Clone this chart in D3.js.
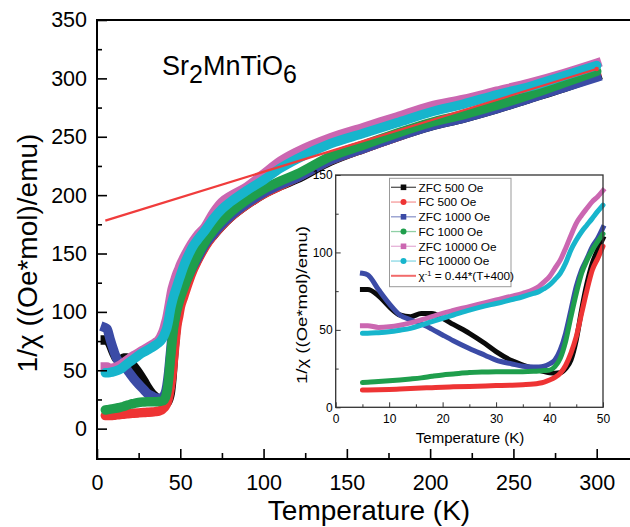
<!DOCTYPE html>
<html><head><meta charset="utf-8">
<script src="https://cdn.jsdelivr.net/npm/d3@7/dist/d3.min.js"></script>
<style>
body{margin:0;background:#fff}
svg{display:block}
text{font-family:"Liberation Sans",Arial,Helvetica,sans-serif;fill:#000}
</style>
</head><body>
<svg id="chart" width="630" height="527"></svg>
<script>
// ---------- DATA ----------
const lowT  = [5,6,8,10,12,14,16,18,20,22,25,28,30,33,35,37,38,39,40,41,42,43,44,45,46,47,48,49,50];
const highT = [50,52,55,58,60,65,70,75,80,90,100,110,120,140,160,180,200,220,240,260,280,300];

const zfc500Low  = [76,76,72,65,59.6,58.5,60.5,60.5,57.5,53.5,47.8,41,36,30,27.3,25,24,23,22.3,22,22.3,25,30.5,43.5,63,80,93,101.6,109];
const fc500Low   = [11.2,11.2,11.3,11.5,11.8,12.1,12.4,12.7,13,13.2,13.5,13.8,14,14.3,14.6,15,15.5,16.3,17.6,19.3,22,27,35,45.6,60.7,75.7,88.7,96,104];
const zfc1000Low = [86.5,85.5,76,67,59.6,56.5,54,50.5,46.7,43,38,33.5,30.5,28,26.5,26,26,26.5,28,30.5,37,47.8,62.8,78,88.7,96,103.7,109,116];
const fc1000Low  = [16,16.2,16.7,17.2,17.7,18.3,19,20,20.9,21.5,22.4,22.8,23,23,23,23.2,23.4,23.7,24,26.3,31.6,42.4,58.5,73.6,86.5,95,101.6,107,112];
const zfc1e4Low  = [52.7,52.7,51.6,52,53,54.5,56.5,58.5,60.7,62.5,65,67.6,69.3,71.8,73.6,76,78,81,84.4,89.7,95,102.6,111,118.8,124,128.5,132.8,136,140];
const fc1e4Low   = [47.8,47.8,48.2,48.8,49.8,51,53,55.3,57.5,59.6,62.8,65.5,67,69.6,71.4,73.5,74.7,76.7,79,82.5,86.5,93,101.6,108,113.4,117.7,122,126.5,130.6];

const zfc500High  = [109,117,129,139,144,157,166,174,181,192,201,208,214,229,240,250,259,266,274,283,292,302];
const fc500High   = [104,113,126,137,143,156,166,174,181,192,201,208,215,230,240,250,260,267,275,284,293,303];
const zfc1000High = [116,122,131,140,145,158,167,175,182,193,202,209,215,230,240,250,259,266,274,283,292,301];
const fc1000High  = [112,120,131,141,147,160,170,178,185,196,205,212,218,233,243,253,262,269,277,286,296,306];
const zfc1e4High  = [140,146,154,161,165,173,185,194,199,207,218,229,237,249,258,267,276,282,289,296,304,313];
const fc1e4High   = [130.6,139,149,157,161,170,180,188,194,204,213,223,231,244,253,262,271,278,286,293,302,311];

const seriesNames  = ["ZFC 500 Oe","FC 500 Oe","ZFC 1000 Oe","FC 1000 Oe","ZFC 10000 Oe","FC 10000 Oe"];
const seriesColors = ["#0a0a0a","#ee3434","#3b4ba6","#1f9e4c","#cb67b1","#17b5cc"];
const seriesLight  = ["#555555","#f59a9a","#8e98cc","#8fd0a6","#e6b3d8","#8ad9e5"];
const seriesMarker = ["square","circle","square","circle","square","circle"];

const fitT = [5, 300];
const fitV = [178.2, 308];
const fitColor = "#f03c3c";
const fitLabel = ["χ", "-1", " = 0.44*(T+400)"];

const mainXTicks = [0,50,100,150,200,250,300];
const mainXMinor = [25,75,125,175,225,275,325];
const mainYTicks = [0,50,100,150,200,250,300,350];
const mainYMinor = [25,75,125,175,225,275,325];
const insetXTicks = [0,10,20,30,40,50];
const insetXMinor = [5,15,25,35,45];
const insetYTicks = [0,50,100,150];
const insetYMinor = [25,75,125];

const yTitle = "1/χ ((Oe*mol)/emu)";
const xTitle = "Temperature (K)";

// ---------- BUILD ----------
const lowSets  = [zfc500Low, fc500Low, zfc1000Low, fc1000Low, zfc1e4Low, fc1e4Low];
const highSets = [zfc500High, fc500High, zfc1000High, fc1000High, zfc1e4High, fc1e4High];
const series = seriesNames.map((name, i) => {
  const low = lowT.map((t, j) => ({t, v: lowSets[i][j]}));
  const high = highT.map((t, j) => ({t, v: highSets[i][j]}));
  return {name, color: seriesColors[i], light: seriesLight[i], marker: seriesMarker[i],
          low, full: low.concat(high.slice(1))};
});

const svg = d3.select("#chart");

// ---------- MAIN PLOT ----------
const M = {left: 97, top: 20, bottom: 459};
const x = d3.scaleLinear().domain([0, 325]).range([97, 97 + 325 * (499.7 / 300)]);
const y = d3.scaleLinear().domain([-26, 350]).range([M.bottom, M.top]);

const main = svg.append("g");
const line = d3.line().x(d => x(d.t)).y(d => y(d.v)).curve(d3.curveMonotoneX);

series.forEach(s => {
  main.append("path").datum(s.full)
    .attr("d", line).attr("fill", "none")
    .attr("stroke", s.color).attr("stroke-width", 9.5)
    .attr("stroke-linejoin", "round")
    .attr("stroke-linecap", s.marker === "square" ? "square" : "round");
});

// fit line
const fitData = fitT.map((t, i) => ({t, v: fitV[i]}));
main.append("path").datum(fitData)
  .attr("d", d3.line().x(d => x(d.t)).y(d => y(d.v)))
  .attr("fill", "none").attr("stroke", fitColor).attr("stroke-width", 2.2);
main.append("circle").attr("cx", x(fitT[1])).attr("cy", y(fitV[1])).attr("r", 2.2).attr("fill", fitColor);

// frame
const frameW = 2;
main.append("line").attr("x1", x(0)).attr("x2", x(0)).attr("y1", M.top).attr("y2", M.bottom)
  .attr("stroke", "#000").attr("stroke-width", frameW);
main.append("line").attr("x1", x(0) - 1).attr("x2", 640).attr("y1", M.bottom).attr("y2", M.bottom)
  .attr("stroke", "#000").attr("stroke-width", frameW);
main.append("line").attr("x1", x(0) - 1).attr("x2", 640).attr("y1", M.top).attr("y2", M.top)
  .attr("stroke", "#000").attr("stroke-width", frameW);

// axes via d3 axis (ticks inward)
const xAxis = d3.axisBottom(x).tickValues(mainXTicks).tickSizeInner(-10).tickSizeOuter(0).tickPadding(16).tickFormat(d3.format("d"));
const gx = main.append("g").attr("transform", `translate(0,${M.bottom})`).call(xAxis);
const gxm = main.append("g").attr("transform", `translate(0,${M.bottom})`)
  .call(d3.axisBottom(x).tickValues(mainXMinor).tickSizeInner(-6).tickSizeOuter(0).tickFormat(""));
const yAxis = d3.axisLeft(y).tickValues(mainYTicks).tickSizeInner(-10).tickSizeOuter(0).tickPadding(10).tickFormat(d3.format("d"));
const gy = main.append("g").attr("transform", `translate(${x(0)},0)`).call(yAxis);
const gym = main.append("g").attr("transform", `translate(${x(0)},0)`)
  .call(d3.axisLeft(y).tickValues(mainYMinor).tickSizeInner(-5).tickSizeOuter(0).tickFormat(""));
[gx, gxm, gy, gym].forEach(g => {
  g.select(".domain").remove();
  g.selectAll(".tick line").attr("stroke", "#000").attr("stroke-width", 1.6);
  g.selectAll(".tick text").attr("font-size", 21.5).attr("font-family", '"Liberation Sans",Arial,sans-serif').attr("fill", "#000");
});
gx.selectAll(".tick text").attr("dy", "0.71em");

// titles
main.append("text").attr("x", 369).attr("y", 520).attr("text-anchor", "middle")
  .attr("font-size", 28).text(xTitle);
main.append("text").attr("transform", "translate(37,253) rotate(-90)").attr("text-anchor", "middle")
  .attr("font-size", 28).text(yTitle);

// compound label
const lab = main.append("text").attr("x", 162).attr("y", 75).attr("font-size", 27);
lab.append("tspan").text("Sr");
lab.append("tspan").attr("dy", 8).attr("font-size", 25).text("2");
lab.append("tspan").attr("dy", -8).text("MnTiO");
lab.append("tspan").attr("dy", 8).attr("font-size", 25).text("6");

// ---------- INSET ----------
const I = {left: 335.7, right: 603, top: 175, bottom: 407.3};
const xi = d3.scaleLinear().domain([0, 50]).range([I.left, I.right]);
const yi = d3.scaleLinear().domain([0, 150]).range([I.bottom, I.top]);
const inset = svg.append("g");
inset.append("rect").attr("x", I.left).attr("y", I.top).attr("width", I.right - I.left)
  .attr("height", I.bottom - I.top).attr("fill", "#fff");

const lineI = d3.line().x(d => xi(d.t)).y(d => yi(d.v)).curve(d3.curveMonotoneX);
series.forEach(s => {
  inset.append("path").datum(s.low)
    .attr("d", lineI).attr("fill", "none")
    .attr("stroke", s.color).attr("stroke-width", 5)
    .attr("stroke-linejoin", "round")
    .attr("stroke-linecap", s.marker === "square" ? "square" : "round");
});

inset.append("rect").attr("x", I.left).attr("y", I.top).attr("width", I.right - I.left)
  .attr("height", I.bottom - I.top).attr("fill", "none").attr("stroke", "#333").attr("stroke-width", 1.3);

const gxi = inset.append("g").attr("transform", `translate(0,${I.bottom})`)
  .call(d3.axisBottom(xi).tickValues(insetXTicks).tickSizeInner(-5).tickSizeOuter(0).tickPadding(9).tickFormat(d3.format("d")));
const gxim = inset.append("g").attr("transform", `translate(0,${I.bottom})`)
  .call(d3.axisBottom(xi).tickValues(insetXMinor).tickSizeInner(-3).tickSizeOuter(0).tickFormat(""));
const gyi = inset.append("g").attr("transform", `translate(${I.left},0)`)
  .call(d3.axisLeft(yi).tickValues(insetYTicks).tickSizeInner(-5).tickSizeOuter(0).tickPadding(3).tickFormat(d3.format("d")));
const gyim = inset.append("g").attr("transform", `translate(${I.left},0)`)
  .call(d3.axisLeft(yi).tickValues(insetYMinor).tickSizeInner(-3).tickSizeOuter(0).tickFormat(""));
[gxi, gxim, gyi, gyim].forEach(g => {
  g.select(".domain").remove();
  g.selectAll(".tick line").attr("stroke", "#333").attr("stroke-width", 1);
  g.selectAll(".tick text").attr("font-size", 12).attr("font-family", '"Liberation Sans",Arial,sans-serif').attr("fill", "#222");
});
gxi.selectAll(".tick text").attr("dy", "0.6em");

inset.append("text").attr("x", 470).attr("y", 443).attr("text-anchor", "middle")
  .attr("font-size", 15).attr("fill", "#222").text(xTitle);
inset.append("text").attr("transform", "translate(307,305) rotate(-90)").attr("text-anchor", "middle")
  .attr("font-size", 15).attr("textLength", 158).attr("lengthAdjust", "spacingAndGlyphs")
  .attr("fill", "#222").text(yTitle);

// legend
const L = {x: 389.5, y: 178.3, w: 121.5, h: 108.4, row0: 187.3, dy: 14.75};
const leg = inset.append("g");
leg.append("rect").attr("x", L.x).attr("y", L.y).attr("width", L.w).attr("height", L.h)
  .attr("fill", "#fff").attr("stroke", "#999").attr("stroke-width", 1);
series.forEach((s, i) => {
  const cy = L.row0 + i * L.dy;
  leg.append("line").attr("x1", 391).attr("x2", 416).attr("y1", cy).attr("y2", cy)
    .attr("stroke", s.light).attr("stroke-width", 1.3);
  if (s.marker === "square") {
    leg.append("rect").attr("x", 403.5 - 2.8).attr("y", cy - 2.8).attr("width", 5.6).attr("height", 5.6).attr("fill", s.color);
  } else {
    leg.append("circle").attr("cx", 403.5).attr("cy", cy).attr("r", 3).attr("fill", s.color);
  }
  leg.append("text").attr("x", 418.5).attr("y", cy).attr("dy", "0.36em")
    .attr("font-size", 11.8).attr("fill", "#222").text(s.name);
});
{
  const cy = L.row0 + 6 * L.dy;
  leg.append("line").attr("x1", 391).attr("x2", 416).attr("y1", cy).attr("y2", cy)
    .attr("stroke", "#f26b6b").attr("stroke-width", 2);
  const t = leg.append("text").attr("x", 418.5).attr("y", cy).attr("dy", "0.36em")
    .attr("font-size", 11.8).attr("fill", "#222");
  t.append("tspan").text(fitLabel[0]);
  t.append("tspan").attr("dy", -4.5).attr("font-size", 7.5).text(fitLabel[1]);
  t.append("tspan").attr("dy", 4.5).text(fitLabel[2]);
}
</script>
</body></html>
